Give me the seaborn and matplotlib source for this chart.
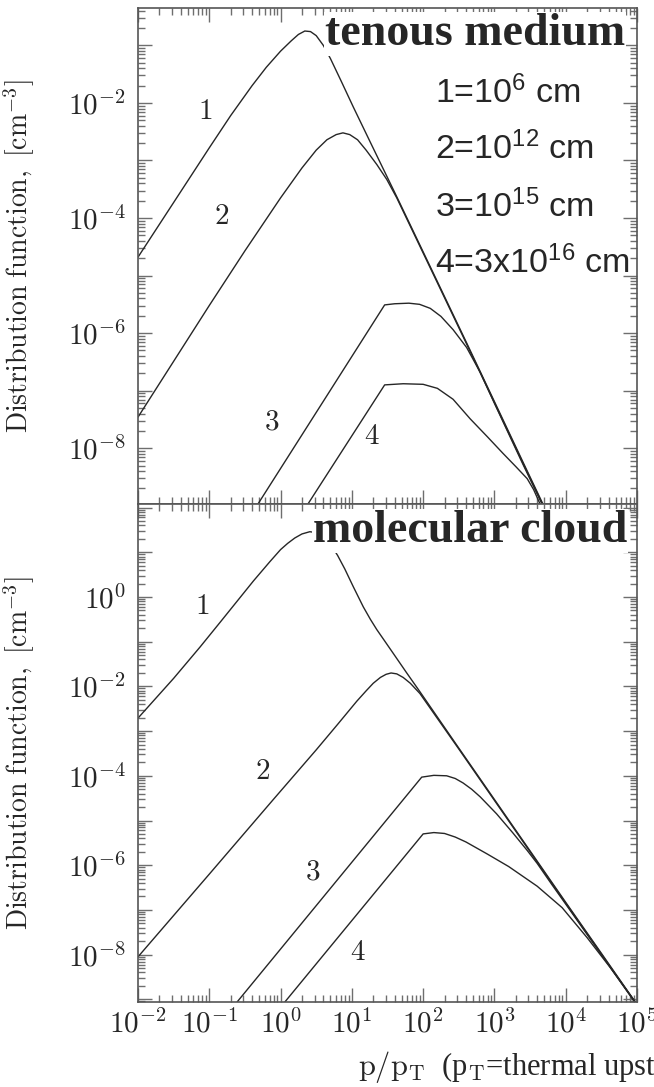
import numpy as np
import pandas as pd
import matplotlib
matplotlib.use("Agg")
import matplotlib.pyplot as plt
import seaborn as sns
from matplotlib.ticker import LogLocator, FuncFormatter, NullFormatter

# ---------------- data (log10 values) ----------------
curve_names = ["1", "2", "3", "4"]
panel_titles = ["tenous medium", "molecular cloud"]
size_labels = [r"1=10$^{\mathrm{6}}$ cm", r"2=10$^{\mathrm{12}}$ cm",
               r"3=10$^{\mathrm{15}}$ cm", r"4=3x10$^{\mathrm{16}}$ cm"]
x_label_text = r"$\mathrm{p/p_T}$  (p$_\mathrm{T}$=thermal upstream momentum)"
y_label_text = r"$\mathrm{Distribution\ function,\ [cm^{-3}]}$"
x_tick_label_exponents = [-2, -1, 0, 1, 2, 3, 4, 5]
top_ytick_label_exponents = [-2, -4, -6, -8]
bot_ytick_label_exponents = [0, -2, -4, -6, -8]

# tenuous medium (top panel)
top_c1_logp = [-2.0, -1.5, -1.0, -0.7, -0.4, -0.2, 0.0, 0.15, 0.25, 0.34, 0.42, 0.5, 0.6,
               0.7, 0.85, 1.02, 1.25, 1.63, 2.19, 2.61, 3.0, 3.4, 3.68]
top_c1_logf = [-4.68, -3.73, -2.78, -2.22, -1.70, -1.38, -1.10, -0.92, -0.81, -0.75, -0.76, -0.83, -1.0,
               -1.23, -1.62, -2.07, -2.66, -3.63, -5.08, -6.17, -7.19, -8.24, -8.97]
top_c2_logp = [-2.0, -1.0, -0.5, 0.0, 0.3, 0.5, 0.65, 0.78, 0.875, 0.97, 1.08, 1.2, 1.35,
               1.49, 1.63, 2.19, 2.61, 3.0, 3.4, 3.68]
top_c2_logf = [-7.46, -5.52, -4.57, -3.65, -3.13, -2.82, -2.64, -2.55, -2.52, -2.55, -2.64, -2.82, -3.07,
               -3.33, -3.65, -5.10, -6.19, -7.21, -8.26, -8.99]
top_c3_logp = [-0.317, 1.46, 1.6, 1.8, 1.95, 2.1, 2.25, 2.42, 2.61, 2.8, 3.0, 3.4, 3.68]
top_c3_logf = [-8.97, -5.51, -5.49, -5.48, -5.50, -5.57, -5.71, -5.94, -6.25, -6.68, -7.22, -8.28, -9.0]
top_c4_logp = [0.384, 1.46, 1.72, 2.0, 2.2, 2.42, 2.66, 2.9, 3.12, 3.3, 3.46, 3.55, 3.64]
top_c4_logf = [-8.97, -6.90, -6.88, -6.89, -6.96, -7.15, -7.49, -7.80, -8.09, -8.32, -8.53, -8.72, -8.97]

# molecular cloud (bottom panel)
bot_c1_logp = [-2.0, -1.5, -1.13, -0.85, -0.38, -0.15, 0.0, 0.1, 0.2, 0.3, 0.41, 0.5, 0.6, 0.7,
               0.8, 0.9, 1.02, 1.16, 1.26, 1.35, 1.45, 1.58, 1.77, 1.955, 2.5, 3.0, 3.5, 4.0, 4.5, 4.98]
bot_c1_logf = [-2.71, -1.82, -1.12, -0.57, 0.36, 0.79, 1.06, 1.20, 1.32, 1.41, 1.46, 1.44, 1.34, 1.18,
               0.93, 0.63, 0.23, -0.22, -0.50, -0.73, -0.96, -1.26, -1.70, -2.12, -3.38, -4.53, -5.68,
               -6.83, -7.97, -9.07]
bot_c2_logp = [-2.0, -1.0, -0.107, 0.5, 0.8, 1.07, 1.2, 1.3, 1.4, 1.48, 1.55, 1.63, 1.72, 1.82,
               1.955, 2.5, 3.0, 3.5, 4.0, 4.5, 4.98]
bot_c2_logf = [-8.05, -6.20, -4.54, -3.42, -2.85, -2.33, -2.10, -1.93, -1.80, -1.73, -1.70, -1.72,
               -1.80, -1.93, -2.16, -3.40, -4.55, -5.70, -6.85, -7.99, -9.08]
bot_c3_logp = [-0.61, 1.98, 2.15, 2.33, 2.45, 2.56, 2.68, 2.8, 3.03, 3.26, 3.46, 3.6, 3.8, 4.0, 4.5, 4.98]
bot_c3_logf = [-9.06, -4.03, -3.99, -4.00, -4.06, -4.16, -4.30, -4.47, -4.85, -5.28, -5.67, -5.96,
               -6.42, -6.87, -8.00, -9.09]
bot_c4_logp = [0.06, 2.0, 2.15, 2.3, 2.45, 2.6, 2.9, 3.2, 3.6, 3.95, 4.3, 4.62, 4.98]
bot_c4_logf = [-9.06, -5.30, -5.27, -5.29, -5.37, -5.48, -5.75, -6.03, -6.47, -6.95, -7.62, -8.28, -9.07]

# curve-number label anchors (p, f)
top_label_p = [0.087, 0.15, 0.76, 19.0]
top_label_f = [6.9e-3, 1.05e-4, 2.8e-8, 1.55e-8]
bot_label_p = [0.079, 0.55, 2.8, 12.2]
bot_label_f = [0.60, 1.2e-4, 7.0e-7, 1.1e-8]

# ---------------- styling ----------------
sns.set_theme(style="ticks")
plt.rcParams["font.family"] = ["Liberation Serif", "DejaVu Sans"]
plt.rcParams["mathtext.fontset"] = "cm"
plt.rcParams["mathtext.rm"] = "Liberation Sans"
plt.rcParams["mathtext.it"] = "Liberation Sans:italic"
plt.rcParams["mathtext.bf"] = "Liberation Sans:bold"

LINE = "#262626"
SPINE = "#555555"
TICK = "#6e6e6e"

W, H = 654, 1087
fig = plt.figure(figsize=(W / 100, H / 100), dpi=100)
fig.patch.set_facecolor("white")


def box(l, t, r, b):
    return [l / W, 1 - b / H, (r - l) / W, (b - t) / H]


ax_top = fig.add_axes(box(138, 8, 637, 504))
ax_bot = fig.add_axes(box(138, 504, 637, 1002))


def panel_frame(curves):
    frames = []
    for name, (lp, lf) in zip(curve_names, curves):
        frames.append(pd.DataFrame({"p": 10.0 ** np.array(lp),
                                    "f": 10.0 ** np.array(lf),
                                    "curve": name}))
    return pd.concat(frames, ignore_index=True)


df_top = panel_frame([(top_c1_logp, top_c1_logf), (top_c2_logp, top_c2_logf),
                      (top_c3_logp, top_c3_logf), (top_c4_logp, top_c4_logf)])
df_bot = panel_frame([(bot_c1_logp, bot_c1_logf), (bot_c2_logp, bot_c2_logf),
                      (bot_c3_logp, bot_c3_logf), (bot_c4_logp, bot_c4_logf)])


def make_fmt(allowed):
    def f(v, pos):
        if v <= 0:
            return ""
        lv = np.log10(v)
        e = int(round(lv))
        if abs(lv - e) > 1e-6 or e not in allowed:
            return ""
        return r"$10^{%d}$" % e
    return FuncFormatter(f)


for ax, df, ylim, yallowed, lp, lf in [
    (ax_top, df_top, (10 ** -8.97, 10 ** -0.35), top_ytick_label_exponents, top_label_p, top_label_f),
    (ax_bot, df_bot, (10 ** -9.06, 10 ** 2.08), bot_ytick_label_exponents, bot_label_p, bot_label_f),
]:
    ax.set_xscale("log")
    ax.set_yscale("log")
    sns.lineplot(data=df, x="p", y="f", hue="curve", palette=[LINE] * 4,
                 estimator=None, sort=False, legend=False, ax=ax, lw=1.0)
    ax.set_xlim(1e-2, 1e5)
    ax.set_ylim(*ylim)
    ax.set_facecolor("white")
    ax.xaxis.set_major_locator(LogLocator(base=10, numticks=30))
    ax.xaxis.set_minor_locator(LogLocator(base=10, subs=np.arange(2, 10), numticks=30))
    ax.yaxis.set_major_locator(LogLocator(base=10, numticks=40))
    ax.yaxis.set_minor_locator(LogLocator(base=10, subs=np.arange(2, 10), numticks=40))
    ax.yaxis.set_major_formatter(make_fmt(yallowed))
    ax.yaxis.set_minor_formatter(NullFormatter())
    ax.xaxis.set_major_formatter(make_fmt(x_tick_label_exponents))
    ax.xaxis.set_minor_formatter(NullFormatter())
    ax.tick_params(which="both", direction="in", top=True, right=True, color=TICK, width=1.0)
    ax.tick_params(which="major", length=10)
    ax.tick_params(which="minor", length=5)
    ax.tick_params(axis="y", which="major", labelsize=21, pad=9)
    ax.tick_params(axis="x", which="major", labelsize=21, pad=5)
    for s in ax.spines.values():
        s.set_color(SPINE)
        s.set_linewidth(1.2)
    ax.set_xlabel("")
    ax.set_ylabel(y_label_text, fontsize=20)
    ax.yaxis.set_label_coords((37 - 138) / 499, 0.5)
    for name, x, y in zip(curve_names, lp, lf):
        ax.text(x, y, "$%s$" % name, fontsize=21, ha="center", va="center")

ax_top.tick_params(labelbottom=False)

# panel titles
fig.text(325 / W, 1 - 45 / H, panel_titles[0], fontsize=33, fontweight="bold",
         family="Liberation Serif", ha="left", va="baseline",
         bbox=dict(fc="white", ec="none", pad=0.5))
fig.text(313 / W, 1 - 542 / H, panel_titles[1], fontsize=33, fontweight="bold",
         family="Liberation Serif", ha="left", va="baseline",
         bbox=dict(fc="white", ec="none", pad=0.5))

# size legend
for txt, yb in zip(size_labels, [103, 159, 217, 273]):
    fig.text(435 / W, 1 - yb / H, txt, fontsize=24.5, family="Liberation Sans",
             math_fontfamily="custom", ha="left", va="baseline")

# x label (runs off the right edge, as in the reference)
fig.text(358 / W, 1 - 1075 / H, x_label_text, fontsize=22, family="Liberation Serif",
         ha="left", va="baseline")

fig.savefig("out.png", dpi=100, facecolor="white")
